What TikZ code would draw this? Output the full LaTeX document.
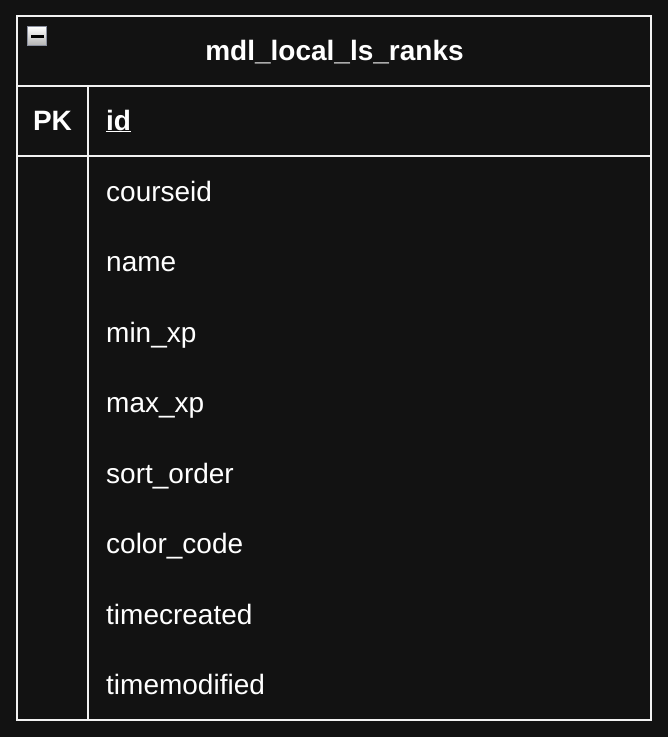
\documentclass[tikz,border=0pt]{standalone}
\usepackage{fontspec}
\setmainfont{Liberation Sans}
\definecolor{bgc}{HTML}{121212}
\definecolor{linec}{HTML}{F2F2F2}
\definecolor{iconborder}{HTML}{8A8F9E}
\tikzset{
  field/.style={anchor=base west, inner sep=0pt, text=white, font=\fontsize{28}{32}\selectfont},
  keyfield/.style={field, font=\fontsize{28}{32}\selectfont\bfseries},
  grid/.style={draw=linec, line width=2pt},
}
\begin{document}
\begin{tikzpicture}[x=1pt,y=-1pt]
\fill[bgc] (0,0) rectangle (668,737);
\useasboundingbox (0,0) rectangle (668,737);
% frame
\coordinate (tl) at (17,15.5);
\coordinate (br) at (651,719.5);
\draw[grid] (tl) rectangle (br);
\draw[grid] (17,85.5) -- (651,85.5);
\draw[grid] (17,155.5) -- (651,155.5);
\draw[grid] (87.5,85.5) -- (87.5,719.5);
% collapse icon
\shade[top color=white, bottom color=gray!60, draw=iconborder, line width=1.5pt] (27.5,26.5) rectangle (46.5,45.5);
\draw[black, line width=3pt] (31,36) -- (43.5,36);
% title
\node[anchor=base, inner sep=0pt, text=white, font=\fontsize{28}{32}\selectfont\bfseries] (title) at (334.5,60) {mdl\_local\_ls\_ranks};
% key row
\node[anchor=base, inner sep=0pt, text=white, font=\fontsize{28}{32}\selectfont\bfseries] (pk) at (52.5,130) {PK};
\node[keyfield] (id) at (106,130) {\underline{id}};
% fields
\node[field] (f1) at (106,201) {courseid};
\node[field] (f2) at (106,271.5) {name};
\node[field] (f3) at (106,342) {min\_xp};
\node[field] (f4) at (106,412.5) {max\_xp};
\node[field] (f5) at (106,483) {sort\_order};
\node[field] (f6) at (106,553.5) {color\_code};
\node[field] (f7) at (106,624) {timecreated};
\node[field] (f8) at (106,694.5) {timemodified};
\end{tikzpicture}
\end{document}
